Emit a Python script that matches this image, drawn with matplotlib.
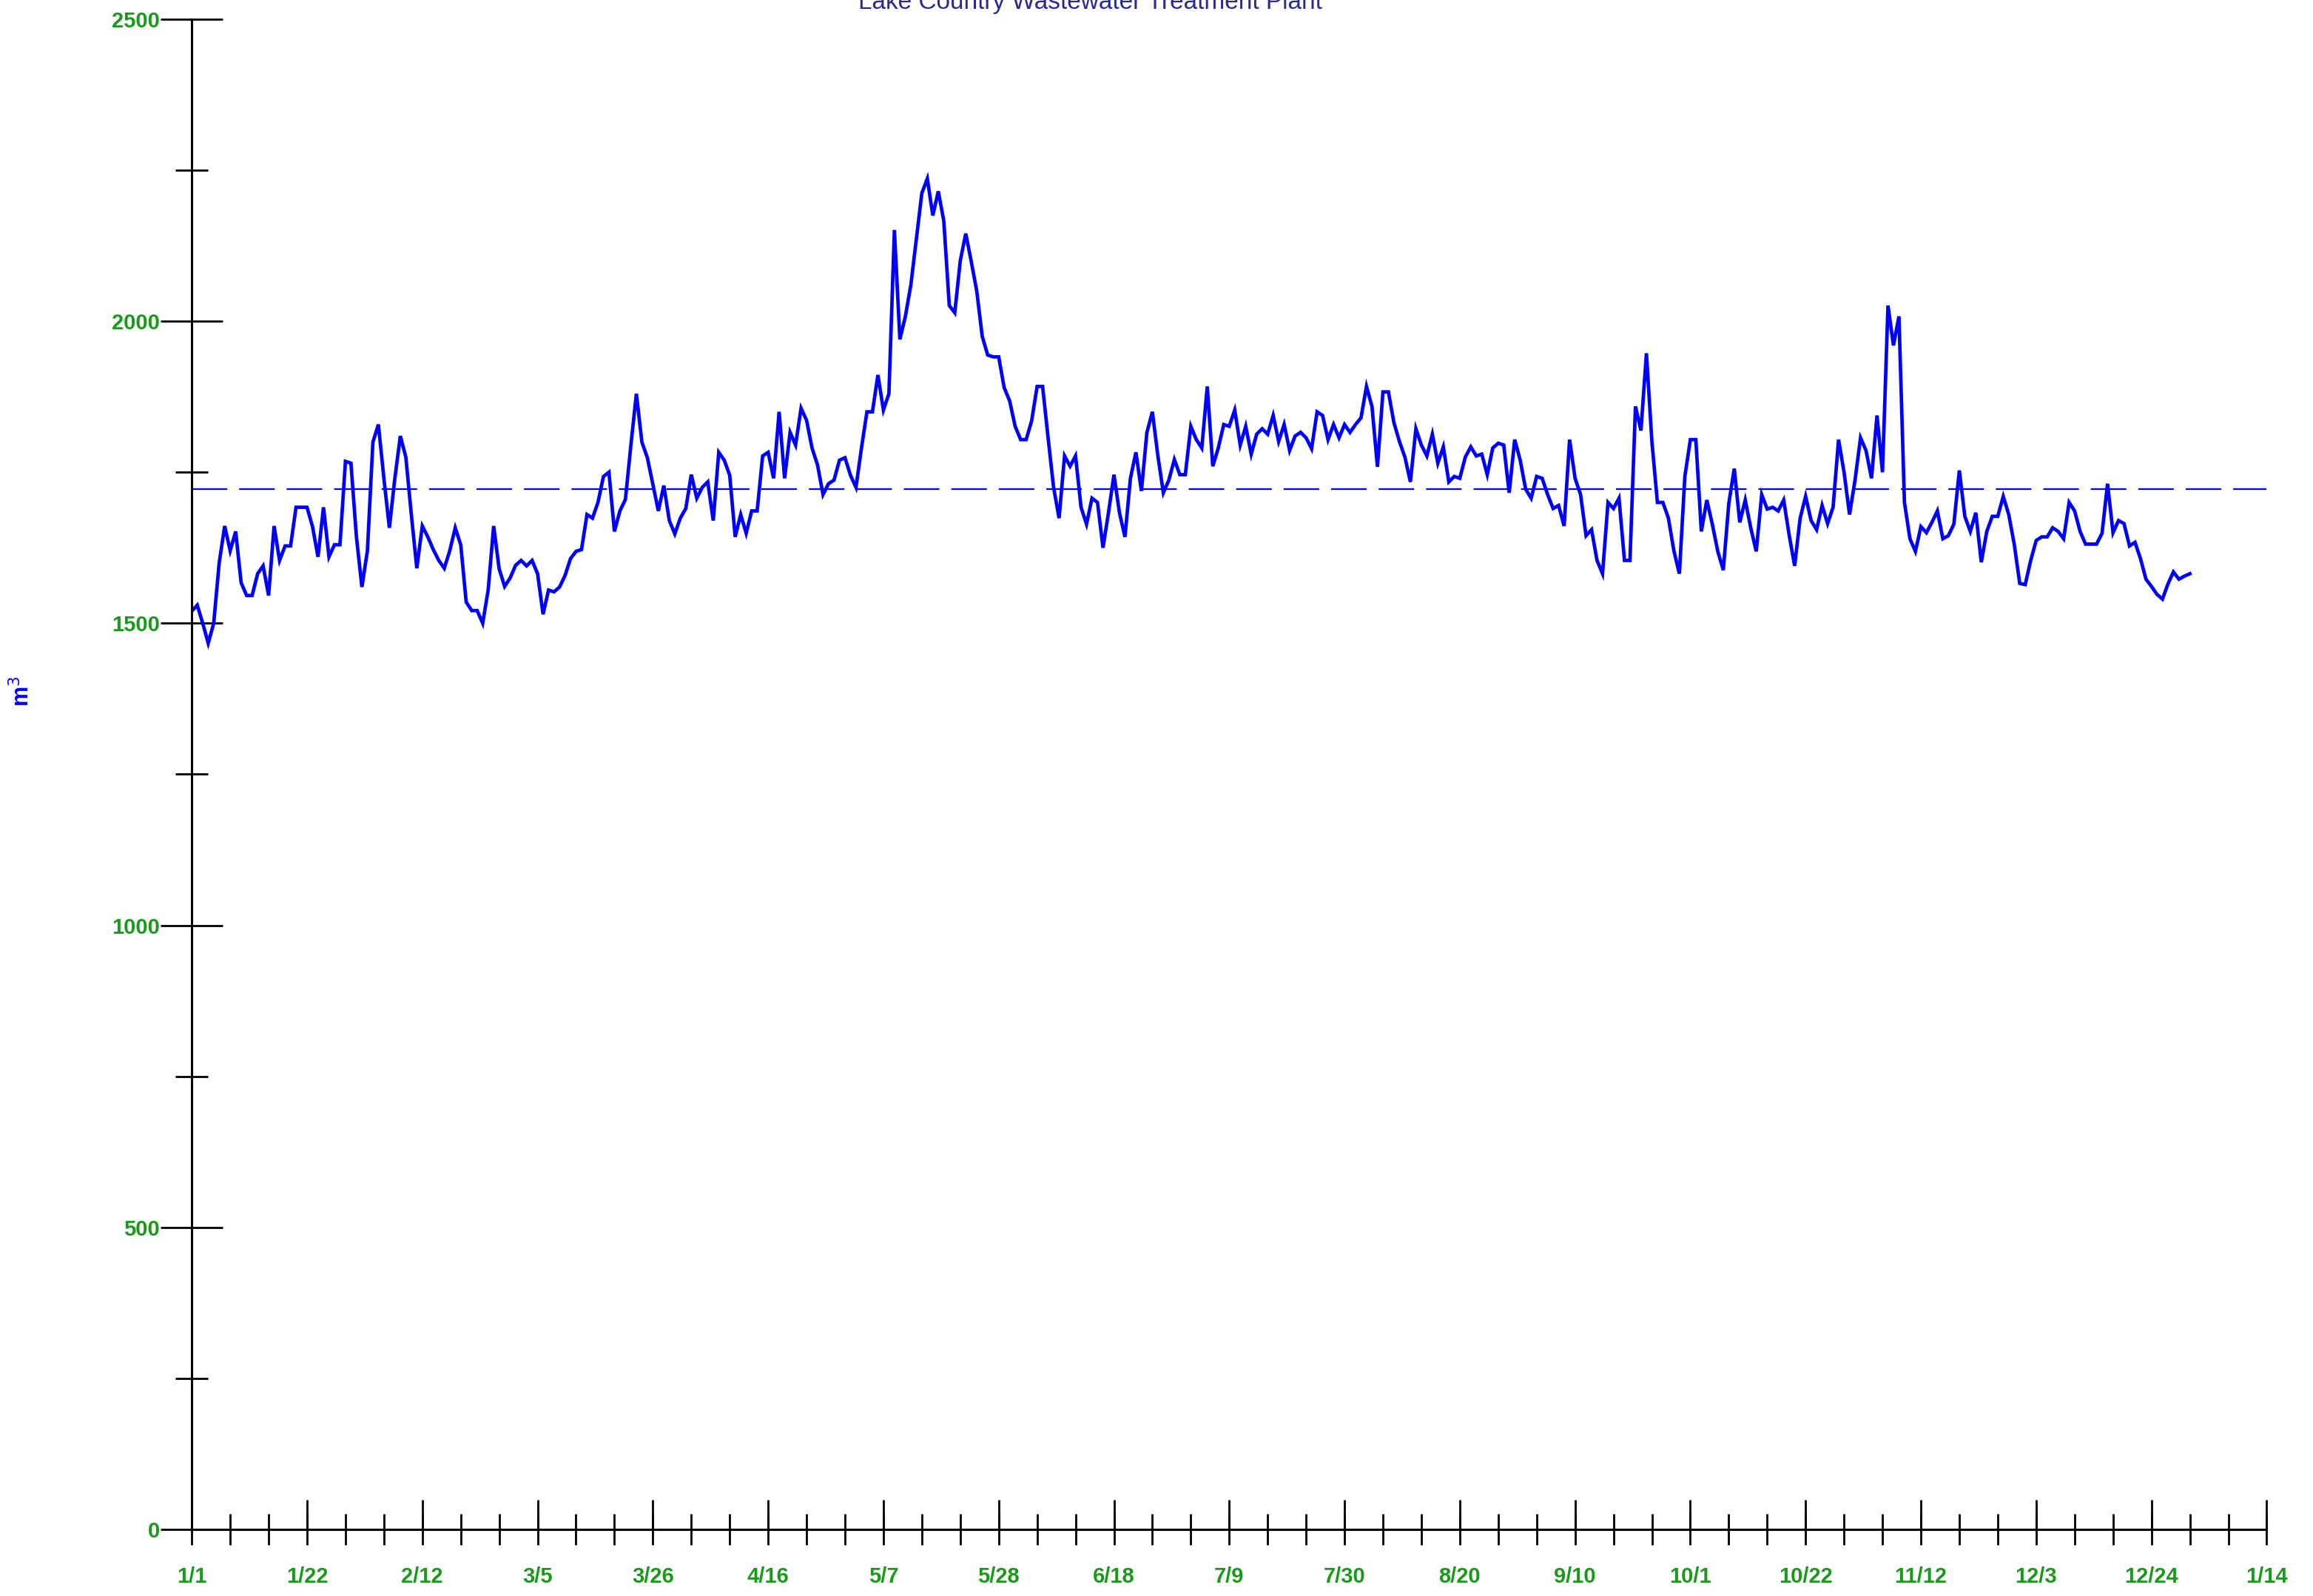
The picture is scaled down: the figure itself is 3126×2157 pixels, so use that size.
import numpy as np
import matplotlib
matplotlib.use("Agg")
import matplotlib.pyplot as plt
from matplotlib.ticker import FixedLocator, NullFormatter

# daily treated volume, 1/1 .. 12/31
flow_m3 = [
    1520, 1530, 1500, 1467, 1500, 1600, 1661, 1620, 1652, 1567,
    1546, 1546, 1582, 1595, 1546, 1661, 1604, 1628, 1628, 1692,
    1692, 1692, 1660, 1610, 1692, 1610, 1630, 1630, 1768, 1765,
    1643, 1560, 1620, 1800, 1829, 1740, 1658, 1740, 1810, 1775,
    1680, 1591, 1661, 1643, 1622, 1604, 1591, 1620, 1658, 1630,
    1535, 1521, 1521, 1500, 1555, 1661, 1590, 1561, 1575, 1596,
    1604, 1595, 1604, 1582, 1515, 1555, 1552, 1560, 1579, 1607,
    1619, 1622, 1680, 1674, 1700, 1743, 1750, 1652, 1686, 1705,
    1795, 1880, 1800, 1774, 1730, 1686, 1728, 1670, 1648, 1674,
    1690, 1746, 1707, 1725, 1734, 1670, 1783, 1770, 1745, 1643,
    1680, 1649, 1686, 1686, 1777, 1783, 1740, 1850, 1740, 1816,
    1795, 1856, 1836, 1790, 1762, 1713, 1731, 1737, 1770, 1774,
    1745, 1725, 1790, 1850, 1850, 1911, 1853, 1880, 2151, 1970,
    2008, 2060, 2136, 2212, 2236, 2175, 2215, 2166, 2026, 2014,
    2100, 2145, 2099, 2050, 1975, 1944, 1941, 1941, 1890, 1868,
    1826, 1804, 1804, 1835, 1892, 1892, 1807, 1725, 1674, 1777,
    1760, 1777, 1692, 1664, 1707, 1700, 1625, 1683, 1746, 1683,
    1643, 1740, 1783, 1719, 1816, 1850, 1777, 1716, 1737, 1771,
    1746, 1746, 1826, 1804, 1790, 1892, 1760, 1790, 1829, 1826,
    1853, 1795, 1826, 1780, 1813, 1822, 1813, 1844, 1801, 1829,
    1786, 1810, 1816, 1807, 1789, 1850, 1844, 1804, 1829, 1807,
    1829, 1816, 1829, 1840, 1892, 1859, 1759, 1883, 1883, 1832,
    1801, 1775, 1734, 1822, 1795, 1777, 1813, 1765, 1792, 1734,
    1743, 1740, 1775, 1792, 1777, 1780, 1746, 1790, 1798, 1795,
    1716, 1804, 1770, 1722, 1707, 1743, 1740, 1713, 1690, 1695,
    1661, 1804, 1740, 1713, 1645, 1655, 1604, 1582, 1700, 1690,
    1707, 1604, 1604, 1859, 1819, 1947, 1800, 1700, 1700, 1674,
    1620, 1582, 1743, 1804, 1804, 1652, 1704, 1664, 1619, 1588,
    1698, 1756, 1667, 1704, 1658, 1619, 1713, 1689, 1692, 1686,
    1704, 1646, 1595, 1674, 1710, 1670, 1655, 1695, 1665, 1692,
    1804, 1750, 1680, 1737, 1807, 1786, 1740, 1844, 1750, 2026,
    1960, 2008, 1700, 1640, 1619, 1660, 1650, 1667, 1686, 1640,
    1645, 1664, 1753, 1677, 1652, 1683, 1601, 1652, 1677, 1677,
    1710, 1680, 1631, 1566, 1564, 1604, 1637, 1643, 1643, 1658,
    1652, 1640, 1700, 1686, 1652, 1631, 1631, 1631, 1649, 1731,
    1650, 1670, 1665, 1628, 1634, 1607, 1573, 1561, 1548, 1540,
    1565, 1585, 1573, 1578, 1582,
]
average_m3 = 1722

date_labels = ["1/1", "1/22", "2/12", "3/5", "3/26", "4/16", "5/7", "5/28",
               "6/18", "7/9", "7/30", "8/20", "9/10", "10/1", "10/22",
               "11/12", "12/3", "12/24", "1/14"]

title = "Lake Country Wastewater Treatment Plant"
green = "#1a9a1a"

plt.rcParams["font.family"] = ["Liberation Sans", "DejaVu Sans"]
plt.rcParams["lines.scale_dashes"] = False

fig = plt.figure(figsize=(15.63, 10.785), dpi=200)
ax = fig.add_axes([0.0829, 0.0417, 0.8971, 0.9463])

days = np.arange(len(flow_m3))
ax.plot(days, flow_m3, color="#0000ff", lw=1.7, solid_joinstyle="miter")
ax.axhline(average_m3, color="#0000ff", lw=0.8, dashes=(17.3, 5.8))

n_span = 7 * 3 * (len(date_labels) - 1)
ax.set_xlim(0, n_span)
ax.set_ylim(0, 2500)

# weekly ticks on x, labelled every third week
ax.xaxis.remove_overlapping_locs = False
ax.xaxis.set_major_locator(FixedLocator(np.arange(0, n_span + 1, 21)))
ax.xaxis.set_minor_locator(FixedLocator(np.arange(0, n_span + 1, 7)))
ax.set_xticklabels(date_labels)
ax.xaxis.set_minor_formatter(NullFormatter())
ax.yaxis.set_major_locator(FixedLocator(np.arange(0, 2501, 500)))
ax.yaxis.set_minor_locator(FixedLocator(np.arange(250, 2500, 500)))

ax.tick_params(axis="x", which="major", direction="in", length=14.4,
               width=1.0, color="black", labelcolor=green, labelsize=10.5,
               pad=18)
ax.tick_params(axis="x", which="minor", direction="inout", length=15.1,
               width=1.0, color="black")
ax.tick_params(axis="y", which="major", direction="inout", length=30.2,
               width=1.0, color="black", labelcolor=green, labelsize=10.5,
               pad=0.5)
ax.tick_params(axis="y", which="minor", direction="inout", length=15.8,
               width=1.0, color="black")
for lbl in ax.get_xticklabels() + ax.get_yticklabels():
    lbl.set_fontweight("bold")

for side in ("top", "right"):
    ax.spines[side].set_visible(False)
for side in ("left", "bottom"):
    ax.spines[side].set_linewidth(1.1)

fig.text(0.0096, 0.567, "m$^3$", rotation=90, color="#0000ff",
         fontweight="bold", fontsize=11, ha="center", va="center")
fig.text(0.4715, 0.9985, title, color="#2a2a90", fontsize=12,
         ha="center", va="center")

fig.savefig("out.png", dpi=200)
